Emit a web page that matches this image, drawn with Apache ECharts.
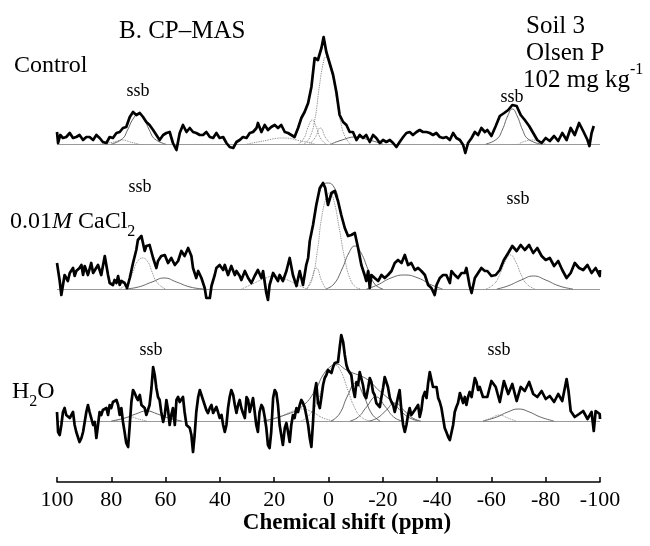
<!DOCTYPE html>
<html><head><meta charset="utf-8">
<script src="https://cdn.jsdelivr.net/npm/echarts@6/dist/echarts.min.js"></script>
<style>html,body{margin:0;padding:0;background:#fff}#c{width:650px;height:546px}</style>
</head><body><div id="c"></div>
<script>
// ---- DATA: [chemical shift (ppm), intensity (a.u.)] ----
const controlTrace = [[100,12],[99.6,1],[98.8,9],[97.8,6],[96.6,7],[95.3,11],[94.1,6],[92.9,7],[91.7,9],[90.4,4],[89.2,7],[88.0,7],[86.7,4],[85.5,9],[84.3,6],[83.1,2],[81.8,1],[80.6,7],[79.4,6],[78.1,11],[76.9,12],[75.7,16],[74.5,17],[73.2,27],[72.0,32],[70.8,29],[69.5,31],[68.3,27],[67.1,22],[65.9,19],[64.6,14],[63.4,9],[62.2,4],[60.9,9],[59.7,11],[58.5,12],[57.3,1],[56.0,-6],[54.8,11],[53.6,19],[52.3,12],[51.1,16],[49.9,12],[48.7,11],[47.4,9],[46.2,9],[45.0,12],[43.7,7],[42.5,6],[41.3,11],[40.1,6],[38.8,7],[37.6,1],[36.4,-3],[35.1,-4],[33.9,2],[32.7,4],[31.5,7],[30.2,6],[29.0,11],[27.8,12],[26.5,16],[26.0,21],[24.7,12],[23.5,19],[22.3,14],[21.1,17],[19.8,19],[18.6,16],[17.4,19],[16.1,12],[14.9,11],[13.7,9],[12.5,7],[11.2,16],[10.0,26],[8.8,32],[7.5,41],[6.3,57],[5.1,86],[3.9,84],[2.6,96],[1.8,107],[0.8,92],[-0.4,81],[-1.7,69],[-2.9,52],[-4.1,29],[-5.4,22],[-6.6,19],[-7.8,12],[-9.0,12],[-10.3,4],[-11.5,9],[-12.7,6],[-13.9,9],[-15.2,2],[-16.4,9],[-17.6,6],[-18.9,1],[-20.1,4],[-21.3,2],[-22.6,4],[-23.8,1],[-25.0,-3],[-26.2,2],[-27.5,7],[-28.7,11],[-29.9,12],[-31.1,9],[-32.4,12],[-33.6,14],[-34.8,12],[-36.1,12],[-37.3,11],[-38.5,9],[-39.7,11],[-41.0,7],[-42.2,6],[-43.4,7],[-44.7,4],[-45.9,11],[-47.1,6],[-48.4,4],[-49.6,-1],[-50.4,-9],[-51.4,1],[-52.7,6],[-53.9,12],[-55.1,9],[-56.3,16],[-57.6,12],[-58.5,14],[-60.0,8],[-61.6,18],[-63.1,28],[-64.7,31],[-66.2,34],[-67.7,39],[-69.3,38],[-70.8,29],[-72.3,24],[-73.9,18],[-75.4,11],[-76.9,4],[-78.5,1],[-80.0,6],[-81.5,3],[-83.1,8],[-84.6,3],[-86.1,11],[-87.7,4],[-89.2,16],[-90.7,9],[-92.3,21],[-93.8,13],[-95.4,4],[-96.1,-2],[-96.9,11],[-97.7,18]];

const cacl2Trace = [[100,26],[99.0,8],[98.4,-6],[97.2,14],[96.0,8],[95.3,16],[94.1,21],[93.5,13],[92.9,18],[91.7,21],[91.0,24],[90.4,14],[89.8,23],[88.6,14],[87.4,26],[86.7,16],[86.1,14],[84.9,24],[83.7,14],[82.4,33],[81.2,14],[80.6,6],[79.4,4],[78.8,9],[78.1,6],[77.5,13],[76.9,4],[76.3,8],[75.1,6],[74.2,1],[73.2,11],[72.0,26],[70.8,39],[70.2,49],[68.9,53],[67.7,38],[67.1,43],[65.9,44],[64.6,31],[63.4,21],[62.8,28],[61.6,33],[60.3,34],[59.1,26],[57.9,31],[56.6,24],[55.4,28],[54.2,38],[53.0,33],[51.7,41],[50.5,33],[49.9,21],[48.7,11],[48.0,18],[46.8,11],[45.6,1],[45.0,-9],[44.4,-11],[43.7,-9],[43.1,3],[41.9,14],[41.3,21],[40.1,24],[38.8,19],[38.2,24],[37.0,14],[35.8,23],[34.5,14],[33.9,18],[32.7,13],[32.1,9],[30.8,18],[29.6,11],[28.4,6],[27.2,13],[26.0,19],[24.7,11],[24.1,18],[22.9,-4],[22.3,-11],[21.7,4],[20.4,16],[18.6,8],[18.0,14],[16.8,8],[15.5,18],[14.3,31],[13.1,14],[11.8,3],[10.6,18],[9.4,4],[8.2,24],[7.5,31],[6.9,48],[5.7,64],[4.5,84],[3.2,101],[2.0,106],[1.2,101],[0.2,84],[-1.1,96],[-2.3,98],[-3.5,88],[-4.7,74],[-6.0,61],[-7.2,53],[-8.4,54],[-9.7,56],[-10.9,41],[-12.1,24],[-13.3,14],[-13.9,8],[-14.6,18],[-15.2,1],[-15.8,14],[-17.0,11],[-18.3,8],[-19.5,14],[-20.7,11],[-21.9,14],[-23.2,18],[-24.4,26],[-25.6,29],[-26.9,26],[-28.1,34],[-29.3,24],[-30.5,26],[-31.8,19],[-33.0,21],[-34.2,18],[-35.5,14],[-36.7,4],[-37.9,1],[-39.1,-6],[-39.8,4],[-41.0,11],[-42.2,14],[-43.4,14],[-44.7,6],[-45.3,18],[-46.5,14],[-47.7,11],[-49.0,16],[-50.2,16],[-50.8,21],[-52.0,3],[-52.7,-4],[-53.9,11],[-55.1,16],[-56.3,21],[-57.6,18],[-58.5,18],[-60.0,13],[-61.6,14],[-63.1,19],[-64.6,29],[-66.2,36],[-67.7,43],[-69.3,38],[-70.8,44],[-72.3,39],[-73.9,44],[-75.4,36],[-76.9,41],[-78.5,33],[-80.0,29],[-81.5,31],[-83.1,23],[-84.6,28],[-86.1,19],[-87.7,11],[-89.2,16],[-90.7,26],[-92.3,21],[-93.8,19],[-95.4,24],[-96.9,16],[-98.4,21],[-99.9,13],[-100,19]];

const h2oTrace = [[100,9],[99.6,-11],[99.0,-14],[98.4,-4],[97.8,9],[97.2,13],[96.6,6],[96.0,8],[95.3,3],[94.7,6],[94.1,9],[93.5,-4],[92.9,-11],[92.3,-12],[91.7,-21],[91.0,-17],[90.4,-11],[89.8,-1],[89.2,9],[88.6,16],[88.0,9],[87.4,3],[86.7,-4],[86.1,-1],[85.5,-17],[84.9,-4],[84.3,9],[83.7,6],[83.1,11],[82.4,9],[81.8,13],[81.2,6],[80.6,16],[80.0,13],[79.4,19],[78.8,19],[78.1,21],[77.5,16],[76.9,6],[76.3,13],[75.7,-1],[75.1,-11],[74.5,-22],[73.8,-26],[73.2,-4],[72.6,19],[72.0,31],[71.4,28],[70.8,24],[70.2,21],[69.5,26],[68.9,16],[68.3,18],[67.7,13],[67.1,6],[66.5,4],[65.9,16],[65.2,33],[64.6,54],[64.3,56],[64.0,46],[63.4,33],[62.8,24],[62.2,21],[61.6,9],[60.9,-1],[60.3,6],[59.7,21],[59.1,11],[58.5,-4],[57.9,6],[57.3,13],[56.6,-4],[56.0,21],[55.4,24],[54.8,19],[54.2,18],[53.6,24],[53.0,9],[52.3,-4],[51.7,-2],[51.1,-7],[50.5,-14],[49.9,-31],[49.3,-14],[48.7,9],[48.0,24],[47.4,31],[46.8,29],[46.2,21],[45.6,16],[45.0,11],[44.4,8],[43.7,13],[43.1,16],[42.5,8],[41.9,6],[41.3,14],[40.7,9],[40.1,3],[39.4,6],[38.8,-4],[38.2,-11],[37.6,-4],[37.0,13],[36.4,24],[35.8,31],[35.1,26],[34.5,16],[33.9,8],[33.3,16],[32.7,21],[32.1,13],[31.5,8],[30.8,3],[30.2,24],[29.6,21],[29.0,9],[28.4,11],[27.8,23],[27.2,21],[26.6,-4],[26.0,-11],[25.4,9],[24.7,16],[24.1,13],[23.5,4],[22.9,-7],[22.3,-24],[21.7,-27],[21.1,-11],[20.4,23],[19.8,31],[19.2,28],[18.6,16],[18.0,-4],[17.4,-14],[16.8,-24],[16.1,-7],[15.5,-2],[14.9,-11],[14.3,-21],[13.7,-4],[13.1,6],[12.5,3],[11.8,13],[11.2,9],[10.6,16],[10.0,21],[9.4,18],[8.8,14],[8.2,6],[7.5,-4],[6.9,-17],[6.3,-26],[5.7,-1],[5.1,29],[4.5,38],[3.9,19],[3.2,13],[2.6,24],[2.0,36],[1.4,43],[0.8,46],[0.2,51],[-0.4,53],[-1.1,48],[-1.7,54],[-2.3,58],[-2.9,56],[-3.5,59],[-4.1,73],[-4.7,86],[-5.4,79],[-6.0,66],[-6.6,56],[-7.2,51],[-7.8,49],[-8.4,46],[-9.0,33],[-9.7,24],[-10.3,39],[-10.9,36],[-11.5,49],[-12.1,49],[-12.7,36],[-13.3,26],[-13.9,23],[-14.6,33],[-15.2,43],[-15.8,39],[-16.4,29],[-17.0,26],[-17.6,18],[-18.3,16],[-18.9,14],[-19.5,24],[-20.1,33],[-20.7,44],[-21.3,44],[-21.9,34],[-22.6,23],[-23.2,19],[-23.8,16],[-24.4,9],[-25.0,16],[-25.6,24],[-26.2,31],[-26.9,9],[-27.5,-4],[-28.1,-11],[-28.7,-4],[-29.3,6],[-29.9,13],[-30.5,6],[-31.1,8],[-31.8,11],[-32.4,13],[-33.0,16],[-33.6,4],[-34.2,11],[-34.8,24],[-35.5,29],[-36.1,23],[-36.7,38],[-37.3,49],[-37.9,48],[-38.5,34],[-39.1,33],[-39.8,34],[-40.4,23],[-41.0,19],[-41.6,13],[-42.2,3],[-42.8,-7],[-43.4,-11],[-44.1,-16],[-44.7,-19],[-45.3,-19],[-45.9,-4],[-46.5,9],[-47.1,14],[-47.7,18],[-48.4,28],[-49.0,26],[-49.6,18],[-50.2,24],[-50.8,16],[-51.4,24],[-52.0,29],[-52.7,24],[-53.3,26],[-53.9,43],[-54.5,39],[-55.1,31],[-55.7,34],[-56.3,29],[-56.9,24],[-57.6,26],[-58.5,24],[-60.0,40],[-61.6,34],[-63.1,19],[-64.6,40],[-66.2,27],[-67.7,37],[-69.3,20],[-70.8,34],[-72.3,30],[-73.9,39],[-75.4,27],[-76.9,24],[-78.5,30],[-80.0,22],[-81.5,25],[-83.1,19],[-84.6,27],[-86.1,20],[-87.7,42],[-88.4,30],[-89.2,10],[-90.7,4],[-92.3,7],[-93.8,10],[-95.4,2],[-96.9,9],[-97.7,-10],[-98.4,10],[-99.9,7],[-100,2]];

// fitted components: solid and dotted curves
const controlFitSolid = [
  [[80,0],[76,5],[74,14],[72,25],[70,30],[68,25],[66,14],[64,5],[60,0]],
  [[-1,0],[-5,4],[-10,7],[-15,4],[-20,0]],
  [[-58,0],[-62,5],[-64,14],[-66,28],[-67.7,35],[-69.5,28],[-71.5,14],[-73.5,5],[-78,0]]
];
const controlFitDotted = [
  [[9,0],[7,6],[5,25],[3.5,55],[2,80],[1,87],[0,84],[-1.5,68],[-3,45],[-4.5,22],[-6,8],[-8,0]],
  [[11,0],[9,6],[7.5,17],[6,24],[4.5,17],[3,6],[1,0]],
  [[7,0],[5,6],[3,16],[1,6],[-1,0]],
  [[30,0],[24,3],[17,6],[10,3],[5,0]],
  [[84,0],[79,2],[76,4],[73,2],[70,0]],
  [[-70,0],[-75,4],[-80,0]]
];
const cacl2FitSolid = [
  [[75,0],[70,2],[65,7],[60.5,11],[56,7],[51,2],[46,0]],
  [[3.5,95],[2,104],[0,106],[-2,102],[-3.5,92]],
  [[1,0],[-2,5],[-5,20],[-7.5,36],[-9.7,43],[-12,36],[-14.5,20],[-17,5],[-20,0]],
  [[-14,0],[-18,4],[-23,11],[-28,14],[-33,11],[-38,4],[-42,0]],
  [[-62,0],[-66,3],[-71,9],[-75.5,13],[-80,9],[-85,3],[-90,0]]
];
const cacl2FitDotted = [
  [[77,0],[74,6],[72,17],[70.5,27],[68.5,31],[66.5,27],[65,17],[63,6],[60,0]],
  [[8,0],[6.5,8],[4.5,21],[2.5,8],[1,0]],
  [[8,0],[6,10],[4,40],[2.5,72],[0.5,94],[-0.5,96],[-2,88],[-4,60],[-6,30],[-8,10],[-10,2],[-12,0]],
  [[32,0],[28,5],[24,10],[20,13],[16,10],[12,5],[8,0]],
  [[-58,0],[-61,5],[-63,14],[-65,27],[-67,34],[-69,27],[-71,14],[-73,5],[-76,0]]
];
const h2oFitSolid = [
  [[80,0],[75,3],[71,7],[67,10],[63,7],[59,3],[54,0]],
  [[-1,0],[-4,7],[-7,25],[-10,38],[-13,25],[-16,7],[-19,0]],
  [[-8,0],[-11,4],[-14,14],[-17.5,24],[-21,14],[-24,4],[-27,0]],
  [[-15,0],[-18,3],[-21,10],[-24.5,18],[-28,10],[-31,3],[-34,0]],
  [[24,0],[16,6],[10,14],[5,30],[2,46],[-1,55],[-3,57],[-6,52],[-9,48],[-12,45],[-15,40],[-18,32],[-21,25],[-24,18],[-27,9],[-30,3],[-33,0]],
  [[-57,0],[-62,4],[-66,9],[-70,12],[-74,9],[-78,4],[-83,0]]
];
const h2oFitDotted = [
  [[10,0],[7,6],[4,20],[1.5,40],[-1,53],[-2.5,56],[-4.5,50],[-7,32],[-9.5,14],[-12,4],[-15,0]],
  [[24,0],[19,3],[14,9],[10,12],[6,9],[2,3],[-2,0]],
  [[-57,0],[-60,3],[-63,6],[-66,3],[-69,0]],
  [[79,0],[76,2],[73,4],[70,2],[67,0]]
];

const xMin = -100, xMax = 100, xStep = 20;
const panelNames = ['Control', '0.01M CaCl2', 'H2O'];

// ---- CHART ----
const FONT = "'Liberation Serif','Times New Roman',serif";
const chart = echarts.init(document.getElementById('c'), null, {renderer: 'canvas'});

const grids = [
  {left: 57, right: 50, top: 30, height: 130},
  {left: 57, right: 50, top: 175, height: 130},
  {left: 57, right: 50, top: 330, height: 152}
];
const yRanges = [[-16, 114], [-16, 114], [-61, 91]];

const xAxes = grids.map((g, i) => ({
  gridIndex: i, type: 'value', min: xMin, max: xMax, interval: xStep, inverse: true,
  show: i === 2,
  axisLine: {show: true, onZero: false, lineStyle: {color: '#000', width: 1.5}},
  axisTick: {show: true, inside: true, length: 5, lineStyle: {color: '#000', width: 1.5}},
  axisLabel: {color: '#000', fontSize: 22, fontFamily: FONT, margin: 7},
  splitLine: {show: false},
  name: i === 2 ? 'Chemical shift (ppm)' : '',
  nameLocation: 'middle', nameGap: 30,
  nameTextStyle: {color: '#000', fontSize: 23, fontWeight: 'bold', fontFamily: FONT, padding: [0, 0, 0, 37]}
}));
const yAxes = grids.map((g, i) => ({
  gridIndex: i, type: 'value', min: yRanges[i][0], max: yRanges[i][1], show: false
}));

const series = [];
function addFits(list, idx, dotted) {
  list.forEach(d => series.push({
    type: 'line', xAxisIndex: idx, yAxisIndex: idx, data: d, smooth: true, showSymbol: false,
    silent: true, z: 2,
    lineStyle: {color: dotted ? '#777' : '#555', width: 0.9, type: dotted ? 'dotted' : 'solid'}
  }));
}
[controlTrace, cacl2Trace, h2oTrace].forEach((tr, i) => {
  series.push({
    type: 'line', xAxisIndex: i, yAxisIndex: i, data: tr, showSymbol: false, silent: true, z: 5,
    lineStyle: {color: '#000', width: 2.7, join: 'round'},
    markLine: {silent: true, symbol: ['none', 'none'], label: {show: false},
      lineStyle: {color: '#999', width: 1, type: 'solid'}, data: [{yAxis: 0}], z: 1}
  });
});
addFits(controlFitSolid, 0, false); addFits(controlFitDotted, 0, true);
addFits(cacl2FitSolid, 1, false); addFits(cacl2FitDotted, 1, true);
addFits(h2oFitSolid, 2, false); addFits(h2oFitDotted, 2, true);

function txt(x, y, text, size, extra) {
  return Object.assign({type: 'text', x: x, y: y, z: 10, silent: true,
    style: Object.assign({text: text, fill: '#000', font: size + 'px ' + FONT, textVerticalAlign: 'middle'}, extra || {})});
}
function richSet(sz) {
  return {
    n: {fontSize: sz, fontFamily: FONT, lineHeight: 36, fill: '#000', color: '#000'},
    i: {fontSize: sz, fontFamily: FONT, fontStyle: 'italic', lineHeight: 36, fill: '#000', color: '#000'},
    s: {fontSize: 16, fontFamily: FONT, lineHeight: 14, verticalAlign: 'bottom', fill: '#000', color: '#000'},
    p: {fontSize: 16, fontFamily: FONT, lineHeight: 14, verticalAlign: 'top', fill: '#000', color: '#000'}
  };
}
const graphics = [
  txt(119, 31, 'B. CP\u2013MAS', 25),
  txt(14, 66, panelNames[0], 24),
  txt(526, 26, 'Soil 3', 25),
  txt(526, 53, 'Olsen P', 25),
  txt(523, 80, '{n|102 mg kg}{p|-1}', 25, {rich: richSet(25)}),
  txt(138, 91, 'ssb', 18, {textAlign: 'center'}),
  txt(512, 97, 'ssb', 18, {textAlign: 'center'}),
  txt(140, 187, 'ssb', 18, {textAlign: 'center'}),
  txt(518, 199, 'ssb', 18, {textAlign: 'center'}),
  txt(10, 222, '{n|0.01}{i|M}{n| CaCl}{s|2}', 24, {rich: richSet(24)}),
  txt(151, 350, 'ssb', 18, {textAlign: 'center'}),
  txt(499, 350, 'ssb', 18, {textAlign: 'center'}),
  txt(12, 392, '{n|H}{s|2}{n|O}', 24, {rich: richSet(24)})
];

chart.setOption({
  animation: false,
  backgroundColor: '#fff',
  grid: grids,
  xAxis: xAxes,
  yAxis: yAxes,
  series: series,
  graphic: graphics
});
</script></body></html>
